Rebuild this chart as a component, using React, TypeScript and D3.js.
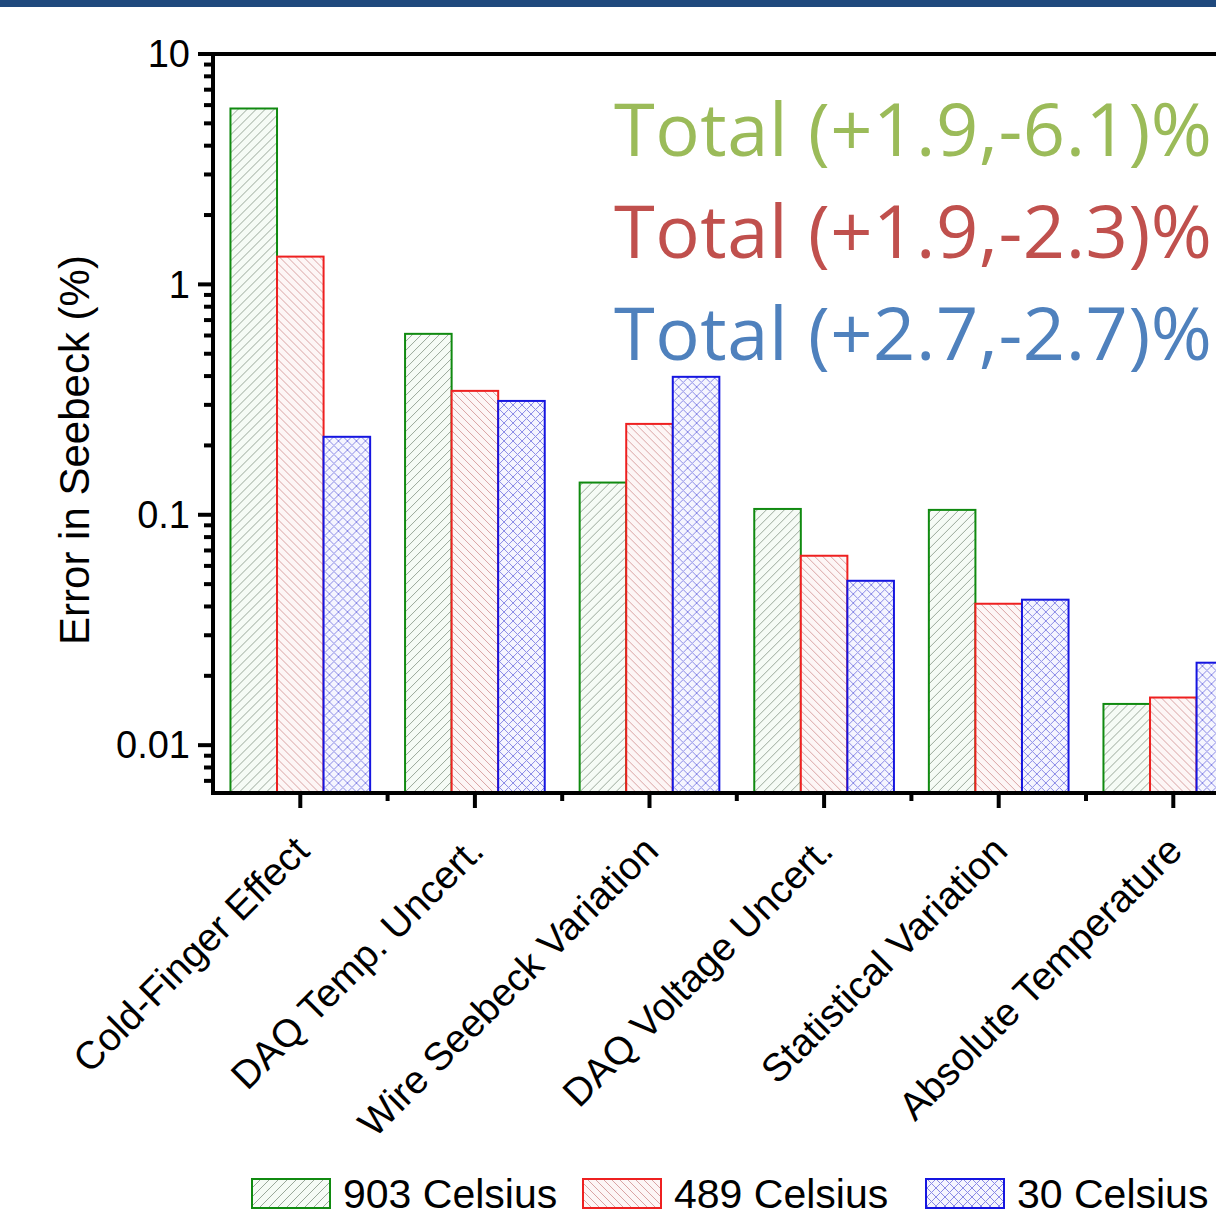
import React from "react";
import * as d3 from "d3";

const categories = [
  "Cold-Finger Effect",
  "DAQ Temp. Uncert.",
  "Wire Seebeck Variation",
  "DAQ Voltage Uncert.",
  "Statistical Variation",
  "Absolute Temperature",
];
const seriesNames = ["903 Celsius", "489 Celsius", "30 Celsius"];
const values903 = [5.8, 0.61, 0.138, 0.106, 0.105, 0.0151];
const values489 = [1.32, 0.345, 0.248, 0.0664, 0.0411, 0.0161];
const values30 = [0.218, 0.312, 0.397, 0.0517, 0.0428, 0.0228];
const totalLabels = ["Total (+1.9,-6.1)%", "Total (+1.9,-2.3)%", "Total (+2.7,-2.7)%"];
const yTickValues = [0.01, 0.1, 1, 10];
const yTickLabels = ["0.01", "0.1", "1", "10"];

const seriesValues = [values903, values489, values30];
const strokeColors = ["#108a10", "#ee2020", "#1515e0"];
const totalColors = ["#9BBB59", "#C0504D", "#4F81BD"];
const patternIds = ["pat-green", "pat-red", "pat-blue"];

export default function App() {
  const width = 1216;
  const height = 1218;
  const margin = { top: 54, left: 213, bottom: 793 };
  const step = 174.6;
  const font = "'Liberation Sans', Arial, sans-serif";

  const xScale = d3
    .scaleBand()
    .domain(categories)
    .range([margin.left, margin.left + step * categories.length]);
  const inner = d3
    .scaleBand()
    .domain(seriesNames)
    .range([0, xScale.bandwidth() * 0.8]);
  const yScale = d3.scaleLog().domain([0.0062, 10]).range([margin.bottom, margin.top]);

  // minor ticks 2..9 per decade
  const minorTicks: number[] = [];
  [0.001, 0.01, 0.1, 1].forEach((d) => {
    for (let k = 2; k <= 9; k++) {
      const v = d * k;
      if (v >= 0.0062 && v <= 10) minorTicks.push(v);
    }
  });

  const groupOffset = (xScale.bandwidth() - xScale.bandwidth() * 0.8) / 2;

  return (
    <svg
      width={width}
      height={height}
      style={{ position: "absolute", left: 0, top: 0, background: "#fff" }}
    >
      <defs>
        <pattern id="pat-green" patternUnits="userSpaceOnUse" width={9} height={9}>
          <rect width={9} height={9} fill="#f6fbf6" />
          <path d="M-1,1 l2,-2 M0,9 l9,-9 M8,10 l2,-2" stroke="#9aa89a" strokeWidth={1} />
        </pattern>
        <pattern id="pat-red" patternUnits="userSpaceOnUse" width={8} height={8}>
          <rect width={8} height={8} fill="#fdf6f6" />
          <path d="M-1,-1 l2,2 M0,0 l8,8 M7,7 l2,2" stroke="#d9a3a3" strokeWidth={1} />
        </pattern>
        <pattern id="pat-blue" patternUnits="userSpaceOnUse" width={9} height={9}>
          <rect width={9} height={9} fill="#f5f5fe" />
          <path
            d="M-1,1 l2,-2 M0,9 l9,-9 M8,10 l2,-2 M-1,8 l2,2 M0,0 l9,9 M8,-1 l2,2"
            stroke="#8a8ae6"
            strokeWidth={1}
          />
        </pattern>
      </defs>

      {/* header band */}
      <rect x={0} y={0} width={width} height={7} fill="#1F497D" />

      {/* bars */}
      {categories.map((cat, i) => (
        <g key={cat} transform={`translate(${(xScale(cat) ?? 0) + groupOffset},0)`}>
          {seriesNames.map((s, j) => {
            const v = seriesValues[j][i];
            const y = yScale(v);
            return (
              <rect
                key={s}
                x={inner(s)}
                y={y}
                width={inner.bandwidth()}
                height={margin.bottom - y}
                fill={`url(#${patternIds[j]})`}
                stroke={strokeColors[j]}
                strokeWidth={2}
              />
            );
          })}
        </g>
      ))}

      {/* totals */}
      {totalLabels.map((t, i) => (
        <text
          key={t}
          x={614}
          y={156 + i * 102}
          fill={totalColors[i]}
          fontFamily="'Open Sans', 'Noto Sans', sans-serif"
          fontSize={74}
          textLength={598}
        >
          {t}
        </text>
      ))}

      {/* axes */}
      <line x1={margin.left} x2={width} y1={margin.top} y2={margin.top} stroke="#000" strokeWidth={4} />
      <line x1={margin.left} x2={width} y1={margin.bottom} y2={margin.bottom} stroke="#000" strokeWidth={4} />
      <line
        x1={margin.left}
        x2={margin.left}
        y1={margin.top - 2}
        y2={margin.bottom + 2}
        stroke="#000"
        strokeWidth={4}
      />

      {yTickValues.map((v, i) => (
        <g key={v} transform={`translate(0,${yScale(v)})`}>
          <line x1={margin.left - 15} x2={margin.left} stroke="#000" strokeWidth={4} />
          <text
            x={margin.left - 23}
            dy="0.35em"
            textAnchor="end"
            fontFamily={font}
            fontSize={38}
          >
            {yTickLabels[i]}
          </text>
        </g>
      ))}
      {minorTicks.map((v) => (
        <line
          key={v}
          x1={margin.left - 9}
          x2={margin.left}
          y1={yScale(v)}
          y2={yScale(v)}
          stroke="#000"
          strokeWidth={4}
        />
      ))}

      {/* x ticks */}
      {categories.map((cat) => {
        const cx = (xScale(cat) ?? 0) + xScale.bandwidth() / 2;
        return (
          <g key={cat}>
            <line x1={cx} x2={cx} y1={margin.bottom} y2={margin.bottom + 15} stroke="#000" strokeWidth={4} />
            <line
              x1={cx + step / 2}
              x2={cx + step / 2}
              y1={margin.bottom}
              y2={margin.bottom + 8}
              stroke="#000"
              strokeWidth={4}
            />
            <text
              transform={`translate(${cx + 11},${margin.bottom + 60}) rotate(-45)`}
              textAnchor="end"
              fontFamily={font}
              fontSize={39}
            >
              {cat}
            </text>
          </g>
        );
      })}

      {/* y label */}
      <text
        transform={`translate(89,450) rotate(-90)`}
        textAnchor="middle"
        fontFamily={font}
        fontSize={42}
      >
        Error in Seebeck (%)
      </text>

      {/* legend */}
      {seriesNames.map((s, j) => {
        const lx = [252, 583, 926][j];
        return (
          <g key={s}>
            <rect
              x={lx}
              y={1179}
              width={78}
              height={29}
              fill={`url(#${patternIds[j]})`}
              stroke={strokeColors[j]}
              strokeWidth={2}
            />
            <text x={lx + 91} y={1208} fontFamily={font} fontSize={41}>
              {s}
            </text>
          </g>
        );
      })}
    </svg>
  );
}
